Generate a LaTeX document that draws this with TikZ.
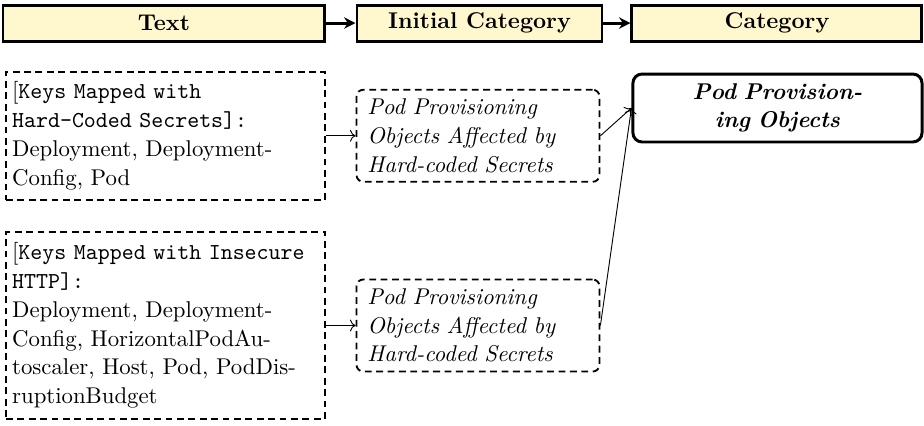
\documentclass[tikz,border=0pt]{standalone}
\usepackage{tikz}
\usetikzlibrary{arrows.meta,positioning}
\definecolor{paleyellow}{HTML}{FFF8CF}
\newcommand{\keyname}[1]{{\ttfamily #1}}
\tikzset{
  head/.style={draw,line width=1.3pt,fill=paleyellow,minimum height=0.555cm,inner sep=0pt,font=\bfseries},
  srcbox/.style={draw,thick,dash pattern=on 3pt off 2pt,text width=134.5pt,inner xsep=2.7pt,align=left,font=\fontsize{10}{12.6}\selectfont},
  midbox/.style={draw,thick,dash pattern=on 3pt off 2pt,rounded corners=3pt,text width=97pt,inner xsep=4.8pt,minimum height=1.42cm,align=left,font=\fontsize{10}{12.6}\selectfont\itshape},
  catbox/.style={draw,line width=1.3pt,rounded corners=4pt,text width=110pt,inner xsep=8.4pt,minimum height=1.048cm,align=center,font=\fontsize{10}{12}\selectfont\bfseries\itshape},
  flow/.style={line width=1.3pt,-{Stealth[length=5pt,width=5pt]}},
  link/.style={->}
}
\begin{document}
\begin{tikzpicture}[scale=1]
\useasboundingbox (0,0) rectangle (14.245,-6.552);
% column heads
\node[head,minimum width=4.964cm] (hText) at (2.528,-0.355) {Text};
\node[head,minimum width=3.777cm] (hInit) at (7.392,-0.355) {Initial Category};
\node[head,minimum width=4.471cm] (hCat) at (11.978,-0.355) {Category};
\draw[flow] (hText) -- (hInit); \draw[flow] (hInit) -- (hCat);
% text column
\node[srcbox,minimum height=1.973cm] (keysA) at (2.551,-2.093) {[\keyname{Keys Mapped with}\\\keyname{Hard-Coded Secrets]:}\\Deployment, Deployment-\\Config, Pod};
\node[srcbox,minimum height=2.883cm] (keysB) at (2.551,-5.018) {[\keyname{Keys Mapped with Insecure}\\\keyname{HTTP]:}\\Deployment, Deployment-\\Config, HorizontalPodAu-\\toscaler, Host, Pod, PodDis-\\ruptionBudget};
% initial categories
\node[midbox] (initA) at (7.369,-2.093) {Pod Provisioning\\Objects Affected by\\Hard-coded Secrets};
\node[midbox] (initB) at (7.369,-5.018) {Pod Provisioning\\Objects Affected by\\Hard-coded Secrets};
% category
\node[catbox] (podObj) at (11.986,-1.665) {Pod Provision-\\ing Objects};
\draw[link] (keysA) -- (initA); \draw[link] (keysB) -- (initB);
\draw[link] (initA.east) -- (podObj.west); \draw[link] (initB.east) -- (podObj.west);
\end{tikzpicture}
\end{document}
